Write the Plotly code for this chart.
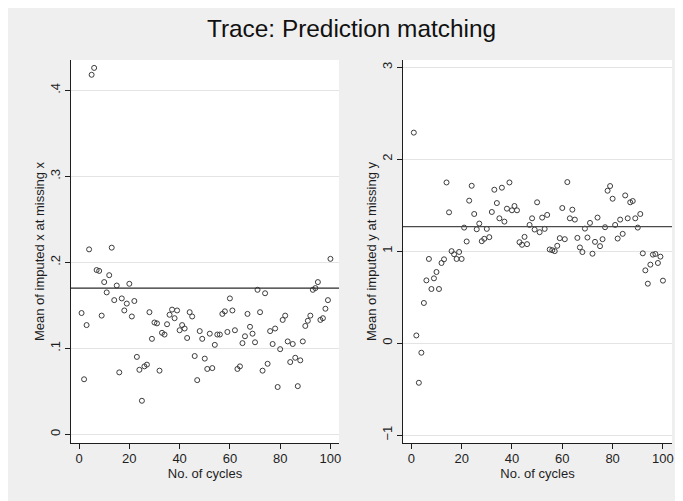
import plotly.graph_objects as go
from plotly.subplots import make_subplots

# ---------------- data ----------------
cycles = list(range(1, 101))

mean_imputed_x = [
    0.141, 0.064, 0.127, 0.215, 0.418, 0.426, 0.191, 0.190, 0.138, 0.177,
    0.165, 0.185, 0.217, 0.156, 0.173, 0.072, 0.158, 0.144, 0.152, 0.175,
    0.137, 0.155, 0.090, 0.075, 0.039, 0.079, 0.081, 0.142, 0.111, 0.130,
    0.129, 0.074, 0.118, 0.116, 0.128, 0.139, 0.145, 0.135, 0.144, 0.121,
    0.127, 0.123, 0.112, 0.142, 0.137, 0.091, 0.063, 0.120, 0.111, 0.088,
    0.076, 0.117, 0.077, 0.104, 0.116, 0.116, 0.140, 0.143, 0.119, 0.158,
    0.144, 0.121, 0.076, 0.079, 0.106, 0.114, 0.140, 0.125, 0.117, 0.107,
    0.168, 0.142, 0.074, 0.164, 0.082, 0.120, 0.105, 0.123, 0.055, 0.099,
    0.133, 0.138, 0.108, 0.084, 0.105, 0.089, 0.056, 0.086, 0.108, 0.126,
    0.132, 0.138, 0.168, 0.170, 0.177, 0.133, 0.135, 0.146, 0.156, 0.204,
]

mean_imputed_y = [
    2.289, 0.083, -0.432, -0.105, 0.436, 0.682, 0.915, 0.588, 0.704, 0.773,
    0.588, 0.871, 0.911, 1.747, 1.422, 1.000, 0.966, 0.915, 0.991, 0.915,
    1.256, 1.105, 1.549, 1.711, 1.404, 1.238, 1.300, 1.108, 1.134, 1.242,
    1.152, 1.426, 1.668, 1.523, 1.357, 1.690, 1.321, 1.462, 1.747, 1.444,
    1.491, 1.444, 1.097, 1.069, 1.155, 1.076, 1.285, 1.357, 1.235, 1.531,
    1.206, 1.365, 1.242, 1.394, 1.018, 1.010, 1.000, 1.058, 1.141, 1.469,
    1.130, 1.751, 1.357, 1.451, 1.343, 1.144, 1.040, 0.990, 1.245, 1.148,
    1.307, 0.972, 1.101, 1.365, 1.054, 1.130, 1.260, 1.657, 1.708, 1.570,
    1.285, 1.137, 1.343, 1.188, 1.606, 1.357, 1.531, 1.545, 1.357, 1.256,
    1.404, 0.976, 0.791, 0.646, 0.853, 0.962, 0.969, 0.871, 0.940, 0.679,
]

reference_x = 0.17
reference_y = 1.267

x_ticks = [0, 20, 40, 60, 80, 100]
x_tick_labels = ["0", "20", "40", "60", "80", "100"]
y1_ticks = [0, 0.1, 0.2, 0.3, 0.4]
y1_tick_labels = ["0", ".1", ".2", ".3", ".4"]
y2_ticks = [-1, 0, 1, 2, 3]
y2_tick_labels = ["\u22121", "0", "1", "2", "3"]

title_text = "Trace: Prediction matching"
x_title = "No. of cycles"
y1_title = "Mean of imputed x at missing x"
y2_title = "Mean of imputed y at missing y"

# ---------------- figure ----------------
# the page body adds an 8px offset, so the figure is 8px smaller than the window
W, H = 675, 493
ML, MR, MT, MB = 63, 11, 52, 58
PW = W - ML - MR

FONT = "Liberation Sans, Arial, Helvetica, sans-serif"
BG = "#efefef"
INK = "#1e1e1e"

fig = make_subplots(rows=1, cols=2)

marker = dict(symbol="circle-open", size=5, color="#3c3c3c", line=dict(width=1, color="#3c3c3c"))
fig.add_trace(go.Scatter(x=cycles, y=mean_imputed_x, mode="markers", marker=marker,
                         showlegend=False, hoverinfo="x+y"), row=1, col=1)
fig.add_trace(go.Scatter(x=cycles, y=mean_imputed_y, mode="markers", marker=marker,
                         showlegend=False, hoverinfo="x+y"), row=1, col=2)

# reference lines
fig.add_shape(type="line", xref="x domain", yref="y", x0=0, x1=1, y0=reference_x, y1=reference_x,
              line=dict(color="#2a2a2a", width=1.3))
fig.add_shape(type="line", xref="x2 domain", yref="y2", x0=0, x1=1, y0=reference_y, y1=reference_y,
              line=dict(color="#4a4a4a", width=1.3))

xaxis_common = dict(
    tickmode="array", tickvals=x_ticks, ticktext=x_tick_labels,
    ticks="outside", ticklen=5, tickwidth=1, tickcolor=INK,
    showline=True, linecolor=INK, linewidth=1.2, mirror=False,
    showgrid=False, zeroline=False, automargin=False,
    ticklabelstandoff=-2,
    tickfont=dict(family=FONT, size=13, color=INK),
    title=dict(text=x_title, font=dict(family=FONT, size=13, color=INK), standoff=1),
)
yaxis_common = dict(
    ticks="outside", ticklen=5, tickwidth=1, tickcolor=INK,
    showline=True, linecolor=INK, linewidth=1.2, mirror=False,
    showgrid=True, gridcolor="#e4e4e4", gridwidth=1, zeroline=False,
    tickangle=-90, automargin=False,
    tickfont=dict(family=FONT, size=13, color=INK),
)

fig.update_layout(
    width=W, height=H,
    margin=dict(l=ML, r=MR, t=MT, b=MB),
    paper_bgcolor=BG, plot_bgcolor="white",
    font=dict(family=FONT, color=INK),
    title=dict(text=title_text, x=343.5 / W, xanchor="center", y=1 - 20 / H, yanchor="middle",
               font=dict(family=FONT, size=24.4, color="#111111")),
    xaxis=dict(domain=[0, (331 - ML) / PW], range=[-3.2, 103.4], **xaxis_common),
    xaxis2=dict(domain=[(395 - ML) / PW, 1.0], range=[-3.3, 103.6], **xaxis_common),
    yaxis=dict(range=[-0.0101, 0.4352], tickmode="array", tickvals=y1_ticks, ticktext=y1_tick_labels,
               title=dict(text=y1_title, font=dict(family=FONT, size=13, color=INK), standoff=0),
               **yaxis_common),
    yaxis2=dict(range=[-1.087, 3.079], tickmode="array", tickvals=y2_ticks, ticktext=y2_tick_labels,
                title=dict(text=y2_title, font=dict(family=FONT, size=13, color=INK), standoff=0),
                **yaxis_common),
)

fig.write_html("out.html")
